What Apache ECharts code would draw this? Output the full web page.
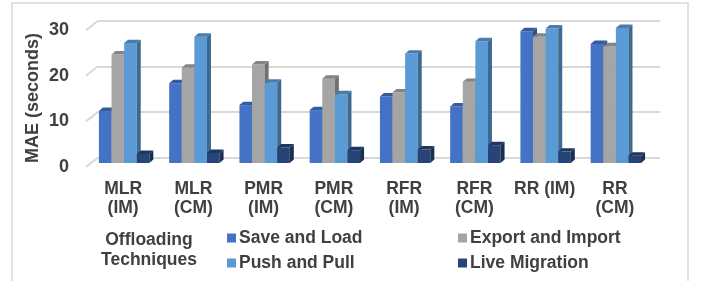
<!DOCTYPE html>
<html>
<head>
<meta charset="utf-8">
<script src="https://cdn.jsdelivr.net/npm/echarts@6/dist/echarts.min.js"></script>
<style>
  html, body { margin: 0; padding: 0; background: #fff; }
  #main { width: 702px; height: 281px; }
</style>
</head>
<body>
<div id="main"></div>
<script>
// categories and values
var categories = ['MLR\n(IM)', 'MLR\n(CM)', 'PMR\n(IM)', 'PMR\n(CM)', 'RFR\n(IM)', 'RFR\n(CM)', 'RR (IM)', 'RR\n(CM)'];
var saveAndLoad     = [11.4, 17.5, 12.7, 11.6, 14.6, 12.4, 28.9, 26.1];
var exportAndImport = [23.8, 20.9, 21.6, 18.5, 15.5, 17.8, 27.7, 25.6];
var pushAndPull     = [26.3, 27.7, 17.6, 15.1, 24.0, 26.7, 29.5, 29.6];
var liveMigration   = [2.0, 2.2, 3.4, 2.8, 3.0, 3.9, 2.5, 1.6];
var yTicks = [0, 10, 20, 30];

var seriesNames = ['Save and Load', 'Export and Import', 'Push and Pull', 'Live Migration'];
var seriesData = [saveAndLoad, exportAndImport, pushAndPull, liveMigration];
var colors = ['#4472C4', '#A5A5A5', '#5B9BD5', '#264478'];

var FONT = 'Liberation Sans, Arial, sans-serif';
var TXT = '#404040';
var BAR_W = 12.6;   // front face width
var DEPTH_X = 4;    // 3d depth
var DEPTH_Y = 3.4;
var FRONT_DX = -9;  // front plane offset from the back wall
var FRONT_DY = 5.5;

function shade(hex, f) {
  var n = parseInt(hex.slice(1), 16);
  var r = Math.round(((n >> 16) & 255) * f);
  var g = Math.round(((n >> 8) & 255) * f);
  var b = Math.round((n & 255) * f);
  return 'rgb(' + r + ',' + g + ',' + b + ')';
}

function makeBarRender(k) {
  var c = colors[k];
  return function (params, api) {
    var x = api.value(0);
    var base = api.coord([x, 0]);
    var topPt = api.coord([x, api.value(1)]);
    var left = base[0] + FRONT_DX + (k - 2) * BAR_W;
    var right = left + BAR_W;
    var yTop = topPt[1] + FRONT_DY;
    var yBot = base[1] + FRONT_DY;
    return {
      type: 'group',
      children: [
        { type: 'rect', shape: { x: left, y: yTop, width: BAR_W, height: yBot - yTop }, style: { fill: c } },
        { type: 'polygon', shape: { points: [[left, yTop], [left + DEPTH_X, yTop - DEPTH_Y], [right + DEPTH_X, yTop - DEPTH_Y], [right, yTop]] }, style: { fill: shade(c, 0.8) } },
        { type: 'polygon', shape: { points: [[right, yTop], [right + DEPTH_X, yTop - DEPTH_Y], [right + DEPTH_X, yBot - DEPTH_Y], [right, yBot]] }, style: { fill: shade(c, 0.68) } }
      ]
    };
  };
}

// short slanted piece of each grid line (left wall of the 3d box)
function wallRender(params, api) {
  var p = api.coord([0, api.value(1)]);
  var x0 = params.coordSys.x;
  return {
    type: 'line',
    shape: { x1: x0, y1: p[1], x2: x0 - 12, y2: p[1] + 9.5 },
    style: { stroke: '#d9d9d9', lineWidth: 2 }
  };
}

var series = [{
  name: 'wall',
  type: 'custom',
  silent: true,
  clip: false,
  z: 1,
  renderItem: wallRender,
  data: yTicks.map(function (v) { return [0, v]; })
}];
seriesData.forEach(function (arr, k) {
  series.push({
    name: seriesNames[k],
    type: 'custom',
    clip: false,
    z: 2,
    itemStyle: { color: colors[k] },
    renderItem: makeBarRender(k),
    encode: { x: 0, y: 1 },
    data: arr.map(function (v, i) { return [i, v]; })
  });
});

var legendCommon = {
  orient: 'vertical',
  top: 228,
  padding: 0,
  icon: 'rect',
  itemWidth: 9,
  itemHeight: 9,
  itemGap: 5,
  textStyle: { fontFamily: FONT, fontSize: 17.5, fontWeight: 'bold', color: TXT, lineHeight: 20, padding: [0, 0, 0, -2] }
};

var option = {
  backgroundColor: '#fff',
  animation: false,
  grid: { left: 98, right: 42, top: 20.7, bottom: 123.5 },
  xAxis: {
    type: 'category',
    data: categories,
    axisLine: { show: false },
    axisTick: { show: false },
    axisLabel: {
      interval: 0,
      margin: 22,
      verticalAlign: 'top',
      lineHeight: 19,
      padding: [0, 20, 0, 0],
      fontFamily: FONT, fontSize: 17.5, fontWeight: 'bold', color: TXT
    }
  },
  yAxis: {
    type: 'value',
    min: 0, max: 30, interval: 10,
    name: 'MAE (seconds)',
    nameLocation: 'middle',
    nameGap: 56,
    nameMoveOverlap: false,
    nameTextStyle: { fontFamily: FONT, fontSize: 18, fontWeight: 'bold', color: TXT, padding: [0, 18, 0, 0] },
    axisLine: { show: false },
    axisTick: { show: false },
    splitLine: { lineStyle: { color: '#d9d9d9', width: 2 } },
    axisLabel: {
      margin: 29,
      verticalAlign: 'top',
      lineHeight: 19,
      fontFamily: FONT, fontSize: 18, fontWeight: 'bold', color: TXT
    }
  },
  legend: [
    Object.assign({ left: 227, data: ['Save and Load', 'Push and Pull'] }, legendCommon),
    Object.assign({ left: 458, data: ['Export and Import', 'Live Migration'] }, legendCommon)
  ],
  graphic: [
    { type: 'rect', shape: { x: 12, y: 3, width: 676, height: 300 }, style: { fill: 'none', stroke: '#d9d9d9', lineWidth: 1.5 }, silent: true },
    { type: 'text', x: 149, y: 250, style: { text: 'Offloading\nTechniques', align: 'center', verticalAlign: 'middle', font: 'bold 17.5px ' + FONT, lineHeight: 20, fill: TXT } }
  ],
  series: series
};

var chart = echarts.init(document.getElementById('main'));
chart.setOption(option);
</script>
</body>
</html>
